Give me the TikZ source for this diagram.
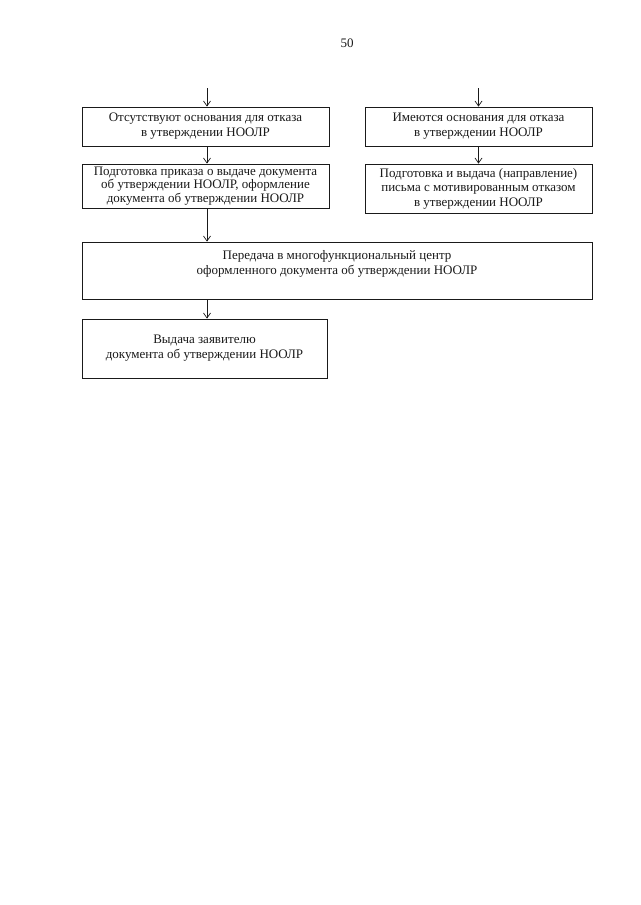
\documentclass[tikz,border=0pt]{standalone}
\usepackage{fontspec}
\setmainfont{Liberation Serif}
\usetikzlibrary{arrows.meta,positioning,calc}
\definecolor{ink}{HTML}{1A1A1A}
\newcommand{\txt}{\fontsize{13}{15}\selectfont}

\begin{document}
\begin{tikzpicture}[x=1pt,y=-1pt,
  stepbox/.style={draw=ink, line width=0.8pt, align=center, font=\txt, text=ink, inner sep=2pt},
  flow/.style={-{Straight Barb[length=5pt,width=7pt]}, ink, line width=0.7pt}]

% ---------- page
\fill[white] (0,0) rectangle (640,905);
\useasboundingbox (0,0) rectangle (640,905);
\node[font=\txt, text=ink] (pagenum) at (347,43) {50};

% ---------- two branches
\coordinate (inyes) at (207,88);
\coordinate (inno) at (478.5,88);
\node[stepbox, minimum width=247pt, minimum height=39pt] (noreason) at (205.5,126.5)
  {Отсутствуют основания для отказа\\в утверждении НООЛР};
\node[stepbox, minimum width=227pt, minimum height=39pt] (reason) at (478.5,126.5)
  {Имеются основания для отказа\\в утверждении НООЛР};
\node[stepbox, minimum width=247pt, minimum height=44pt, font=\fontsize{13}{13.6}\selectfont] (prepdoc) at (205.5,186)
  {Подготовка приказа о выдаче документа\\об утверждении НООЛР, оформление\\документа об утверждении НООЛР};
\node[stepbox, minimum width=227pt, minimum height=49pt, font=\fontsize{13}{14.5}\selectfont] (refusal) at (478.5,188.5)
  {Подготовка и выдача (направление)\\письма с мотивированным отказом\\в утверждении НООЛР};

% ---------- common tail
\node[stepbox, minimum width=510pt, minimum height=57pt, text depth=16pt] (transfer) at (337,270.5)
  {Передача в многофункциональный центр\\оформленного документа об утверждении НООЛР};
\node[stepbox, minimum width=245pt, minimum height=59pt] (issue) at (204.5,348.5)
  {Выдача заявителю\\документа об утверждении НООЛР};

% ---------- arrows
\draw[flow] (inyes) -- (inyes |- noreason.north);
\draw[flow] (inno) -- (inno |- reason.north);
\draw[flow] (noreason.south -| inyes) -- (prepdoc.north -| inyes);
\draw[flow] (reason.south) -- (refusal.north);
\draw[flow] (prepdoc.south -| inyes) -- (transfer.north -| inyes);
\draw[flow] (transfer.south -| inyes) -- (issue.north -| inyes);

\end{tikzpicture}
\end{document}
